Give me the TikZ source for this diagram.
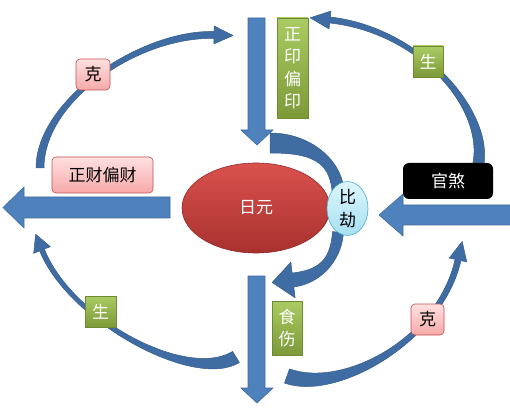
\documentclass[tikz,border=0pt]{standalone}
\usepackage{fontspec}
\usepackage{tikz}
\usetikzlibrary{calc,shapes.geometric}
\newfontfamily\cjk{Noto Sans CJK SC}
\definecolor{ArrowBlue}{HTML}{4F81BD}
\definecolor{ArrowEdge}{HTML}{3F6B9E}
\definecolor{CurveBlue}{HTML}{3F6DA3}
\definecolor{CurveEdge}{HTML}{355C8A}
\definecolor{YuanTop}{HTML}{DA514D}
\definecolor{YuanBot}{HTML}{A8312E}
\definecolor{GreenTop}{HTML}{AACB63}
\definecolor{GreenBot}{HTML}{7C9A38}
\definecolor{GreenEdge}{HTML}{6F8A33}
\definecolor{PinkTop}{HTML}{FFE0E0}
\definecolor{PinkBot}{HTML}{F6A9A9}
\definecolor{PinkEdge}{HTML}{C0504D}
\definecolor{CyanTop}{HTML}{DDF6FD}
\definecolor{CyanBot}{HTML}{A6E0F2}
\definecolor{CyanEdge}{HTML}{4BACC6}
\newcommand\bentarrow[9]{%
  \filldraw[#1] ($(#2)!#6!90:(#3)$) .. controls ($(#3)!#6!-90:(#2)$) and ($(#4)!#7!90:(#5)$) .. ($(#5)!#7!-90:(#4)$)
    -- ($(#5)!#8!-90:(#4)$) -- ($(#5)!-#9!(#4)$) -- ($(#5)!#8!90:(#4)$) -- ($(#5)!#7!90:(#4)$)
    .. controls ($(#4)!#7!-90:(#5)$) and ($(#3)!#6!90:(#2)$) .. ($(#2)!#6!-90:(#3)$) -- cycle;}

\begin{document}
\begin{tikzpicture}[x=1pt,y=-1pt,
  lbl/.style={font=\cjk\fontsize{17}{22.5}\selectfont,inner sep=0pt,align=center},
  greenbox/.style={lbl,draw=GreenEdge,line width=0.6pt,top color=GreenTop,bottom color=GreenBot,text=white},
  pinkbox/.style={lbl,draw=PinkEdge,line width=0.6pt,top color=PinkTop,bottom color=PinkBot,rounded corners=4pt},
  bigarrow/.style={fill=ArrowBlue,draw=ArrowEdge,line width=0.6pt},
  curvearrow/.style={fill=CurveBlue,draw=CurveEdge,line width=0.5pt,line join=round}]
\useasboundingbox (0,0) rectangle (510,411);

\bentarrow{curvearrow}{40,168}{40,100}{140,33}{214,35}{4pt}{3.5pt}{9pt}{19pt}
\bentarrow{curvearrow}{478,166}{490,110}{420,30}{330,20}{5.5pt}{3pt}{9pt}{20pt}
\bentarrow{curvearrow}{236,357}{190,385}{70,320}{42,250}{6.5pt}{2.5pt}{9pt}{17pt}
\bentarrow{curvearrow}{287,376}{340,395}{440,340}{458,260}{7.5pt}{3pt}{9pt}{19pt}

\draw[bigarrow] (248,18) -- (265,18) -- (265,130) -- (273,130) -- (257,145) -- (241,130) -- (248,130) -- cycle;
\draw[bigarrow] (248,276) -- (265,276) -- (265,388) -- (273,388) -- (257,403) -- (241,388) -- (248,388) -- cycle;
\draw[bigarrow] (170,197) -- (170,218) -- (24,218) -- (24,228) -- (3,207.5) -- (24,187) -- (24,197) -- cycle;
\draw[bigarrow] (511,205) -- (511,225) -- (403,225) -- (403,236) -- (379,215) -- (403,194) -- (403,205) -- cycle;

\bentarrow{curvearrow}{270,143}{310,143}{335,160}{338,190}{10pt}{6pt}{6pt}{0pt}
\bentarrow{curvearrow}{338,232}{336,262}{318,277}{293,280}{5.5pt}{7pt}{18pt}{21pt}

\node[ellipse,draw=YuanBot!85!black,line width=0.6pt,top color=YuanTop,bottom color=YuanBot,
  minimum width=148,minimum height=90,lbl,text=white] (riyuan) at (256,208) {日元};
\node[ellipse,draw=CyanEdge,line width=0.6pt,top color=CyanTop,bottom color=CyanBot,
  minimum width=41,minimum height=53,lbl] (bijie) at (347.5,208.5) {比\\劫};
\node[greenbox,minimum width=31,minimum height=100] (yin) at (292.5,68) {正\\印\\偏\\印};
\node[greenbox,minimum width=30,minimum height=54] (shishang) at (287,328) {食\\伤};
\node[lbl,fill=black,text=white,rounded corners=6pt,minimum width=90,minimum height=36] (guansha) at (448,181) {官煞};
\node[pinkbox,minimum width=101,minimum height=36] (cai) at (102.5,175) {正财偏财};
\node[pinkbox,minimum width=34,minimum height=31] (ke1) at (93,74.5) {克};
\node[pinkbox,minimum width=33,minimum height=31] (ke2) at (427.5,319.5) {克};
\node[greenbox,minimum width=30,minimum height=31] (sheng1) at (428,61.5) {生};
\node[greenbox,minimum width=31,minimum height=31] (sheng2) at (100.5,311.5) {生};
\end{tikzpicture}
\end{document}
